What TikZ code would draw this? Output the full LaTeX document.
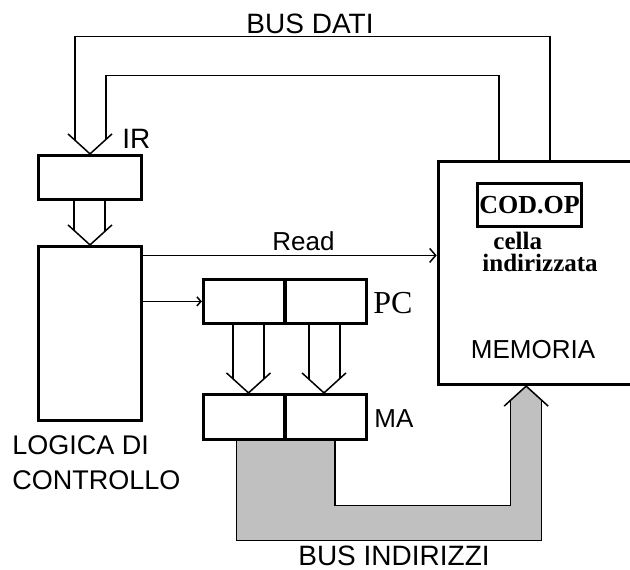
\documentclass[tikz,border=0pt]{standalone}
\usepackage{fontspec}
\setmainfont{Liberation Serif}
\setsansfont{Liberation Sans}
\usetikzlibrary{arrows.meta,calc,backgrounds}
\definecolor{busgray}{HTML}{C0C0C0}

\begin{document}
\begin{tikzpicture}[x=0.5pt, y=-0.5pt,
  reg/.style={draw, fill=white, line width=1.6pt, minimum width=40.75pt, minimum height=22pt, inner sep=0pt},
  wire/.style={line width=0.75pt},
  lbl/.style={font=\sffamily\fontsize{14}{14}\selectfont, inner sep=0pt},
  pics/vhead/.style={code={\draw[wire] (-22,-20) -- (0,0) -- (22,-20);}}]
\useasboundingbox (0,0) rectangle (630,569);
\clip (0,0) rectangle (630,569);
% registers and blocks
\node[reg, minimum width=51.5pt] (ir) at (90,177.5) {};
\node[reg, minimum width=51.5pt, minimum height=87pt] (logic) at (90,333.5) {};
\node[reg, minimum width=140.75pt, minimum height=111.5pt] (mem) at (579,273) {};
\node[reg, minimum width=52pt, minimum height=21.5pt, font=\fontsize{13}{13}\selectfont\bfseries] (codop) at (529.5,205) {COD.OP};
\node[reg] (pc1) at (244.25,301.5) {};
\node[reg] (pc2) at (325.75,301.5) {};
\node[reg, minimum height=22.5pt] (ma1) at (244.25,417) {};
\node[reg, minimum height=22.5pt] (ma2) at (325.75,417) {};
% labels
\node[lbl, anchor=base] (busdati) at (310,33) {BUS DATI};
\node[lbl, anchor=base west] (irl) at (122,148) {IR};
\node[lbl, anchor=base west, font=\sffamily\fontsize{13}{13}\selectfont] (readl) at (272,250) {Read};
\node[anchor=base west, inner sep=0pt, font=\fontsize{16}{16}\selectfont] (pcl) at (373,313) {PC};
\node[lbl, anchor=base west, font=\sffamily\fontsize{13}{13}\selectfont] (mal) at (374,427) {MA};
\node[lbl, anchor=base, font=\sffamily\fontsize{13}{13}\selectfont] (meml) at (533,358) {MEMORIA};
\node[lbl, anchor=north west, align=left, font=\sffamily\fontsize{13.5}{17.5}\selectfont] (logicl) at (12,435) {LOGICA DI\\CONTROLLO};
\node[lbl, anchor=base] (busind) at (394,565) {BUS INDIRIZZI};
\node[anchor=north west, align=left, inner sep=0pt, font=\fontsize{12.5}{11}\selectfont\bfseries] (cellal) at (482,232) {\hspace{5.5pt}cella\\indirizzata};
% bus dati
\draw[wire] ($(mem.north west)+(113.5,0)$) -- ++(0,-123.5) -| ($(ir.north)+(-15,-14)$);
\draw[wire] ($(mem.north west)+(62.5,0)$) -- ++(0,-84.5) -| ($(ir.north)+(16,-14)$);
\pic at (ir.north) {vhead};
% ir to logic
\draw[wire] ($(ir.south)+(-16,0)$) -- ($(logic.north)+(-16,-14)$);
\draw[wire] ($(ir.south)+(15,0)$) -- ($(logic.north)+(15,-14)$);
\pic at (logic.north) {vhead};
% control signals
\draw[wire, -{Straight Barb[length=3pt,width=7pt]}] ($(logic.north east)+(0,10.5)$) coordinate (r0) -- (r0 -| mem.west);
\draw[wire, -{Straight Barb[length=2pt,width=4.5pt]}] ($(logic.north east)+(0,56.5)$) coordinate (p0) -- (p0 -| pc1.west);
% pc to ma
\draw[wire] ($(pc1.south)+(-11.25,0)$) -- ($(ma1.north)+(-11.25,-14)$);
\draw[wire] ($(pc1.south)+(19.75,0)$) -- ($(ma1.north)+(19.75,-14)$);
\pic at ($(ma1.north)+(4.25,0)$) {vhead};
\draw[wire] ($(pc2.south)+(-16.75,0)$) -- ($(ma2.north)+(-16.75,-14)$);
\draw[wire] ($(pc2.south)+(14.25,0)$) -- ($(ma2.north)+(14.25,-14)$);
\pic at ($(ma2.north)+(-1.75,0)$) {vhead};
% bus indirizzi
\coordinate (bl) at ($(ma1.south)+(-8,0)$);
\coordinate (br) at ($(ma2.south)+(9,0)$);
\coordinate (mt) at ($(mem.south west)+(89.5,0)$);
\begin{scope}[on background layer]
\fill[busgray] (bl) -- ++(0,99.5) -| ($(mt)+(15.5,14)$) -- (mt) -- ($(mt)+(-15.5,14)$) |- ($(br)+(0,64.5)$) -- (br) -- cycle;
\draw[wire] (bl) -- ++(0,99.5) -| ($(mt)+(15.5,14)$);
\draw[wire] (br) -- ++(0,64.5) -| ($(mt)+(-15.5,14)$);
\end{scope}
\pic[rotate=180] at (mt) {vhead};
\end{tikzpicture}
\end{document}
